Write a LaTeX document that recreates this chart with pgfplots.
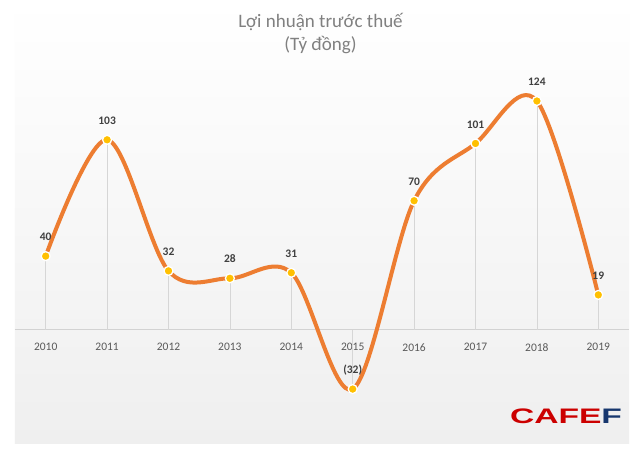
\documentclass[border=0pt]{standalone}
\usepackage{pgfplots}
\pgfplotsset{compat=1.18}
\usepackage{pgfplotstable}
\usepackage{fontspec}
\setmainfont{Carlito}
\newfontfamily\logofont{Liberation Sans}
\definecolor{lineor}{HTML}{ED7D31}
\definecolor{mk}{HTML}{FFC000}
\definecolor{txt}{HTML}{595959}
\definecolor{lbl}{HTML}{404040}
\definecolor{ttl}{HTML}{808080}
\definecolor{bgb}{HTML}{EFEFEF}
\definecolor{cafered}{HTML}{CC0000}
\definecolor{cafeblue}{HTML}{17376E}
\pgfplotstableread{
x y lab
0 40 40
1 103 103
2 32 32
3 28 28
4 31 31
5 -32 (32)
6 70 70
7 101 101
8 124 124
9 19 19
}\datatab
\begin{document}
\begin{tikzpicture}[x=1pt,y=1pt]
\useasboundingbox (0,0) rectangle (641,459);
\fill[white] (0,0) rectangle (641,459);
\begin{axis}[
  at={(15pt,16pt)}, anchor=south west,
  scale only axis, width=614pt, height=443pt,
  xmin=-0.5, xmax=9.5, ymin=-61.2, ymax=178.7,
  axis background/.style={shade, top color=white, bottom color=bgb},
  axis y line=none,
  axis x line=middle,
  hide obscured x ticks=false,
  x axis line style={-, draw=gray!35, line width=1pt},
  xtick={0,1,2,3,4,5,6,7,8,9},
  xticklabels={2010,2011,2012,2013,2014,2015,2016,2017,2018,2019},
  major tick length=0pt,
  xticklabel style={font=\fontsize{11.5}{13}\selectfont, text=txt, yshift=-10pt},
  clip=false,
]
\addplot[ycomb, draw=gray!32, line width=0.8pt, mark=none] table[x=x,y=y]{\datatab};
\addplot[smooth, tension=0.55, draw=lineor, line width=4pt, mark=none] table[x=x,y=y]{\datatab};
\addplot[only marks, mark=*, mark size=4.5pt,
  mark options={fill=mk, draw=white, line width=1.3pt},
  nodes near coords, point meta=explicit symbolic,
  nodes near coords style={font=\bfseries\fontsize{11.5}{13}\selectfont, text=lbl, anchor=base, yshift=15.3pt}]
  table[x=x,y=y,meta=lab]{\datatab};
\end{axis}
\node[text=ttl, font=\fontsize{19}{23}\selectfont] at (320.5,437) {Lợi nhuận trước thuế};
\node[text=ttl, font=\fontsize{19}{23}\selectfont] at (320.5,414) {(Tỷ đồng)};
\node[inner sep=0pt, xscale=1.6, font=\logofont\bfseries\fontsize{21}{21}\selectfont] at (566,42.5) {\textcolor{cafered}{CAFE}\textcolor{cafeblue}{F}};
\end{tikzpicture}
\end{document}
